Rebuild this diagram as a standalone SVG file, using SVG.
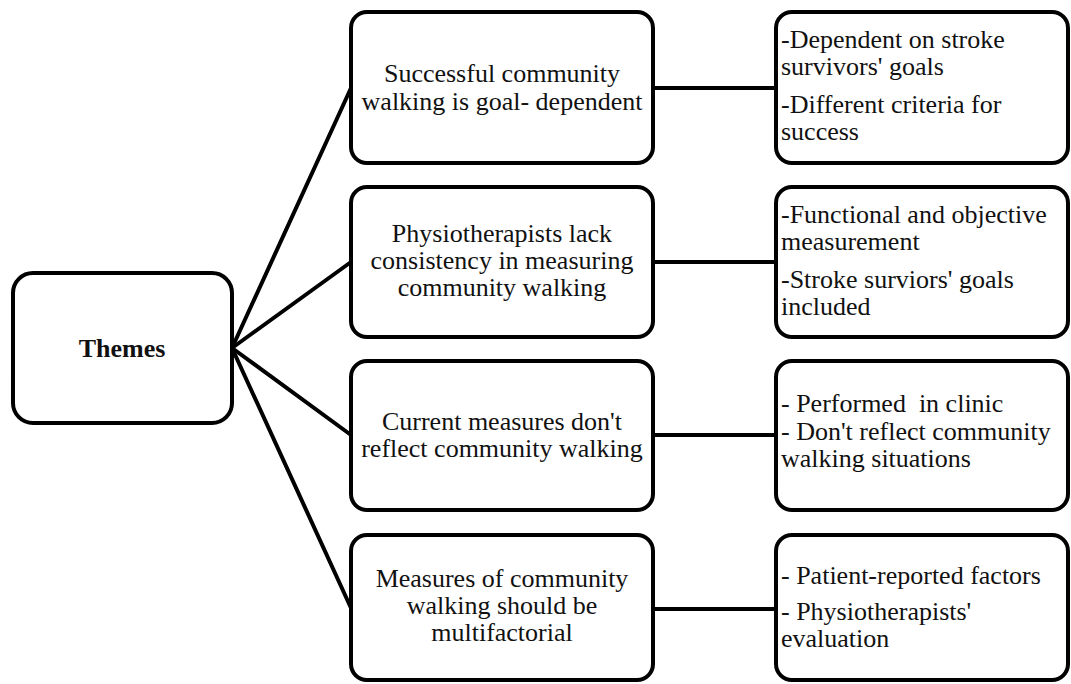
<svg xmlns="http://www.w3.org/2000/svg" width="1071" height="684" viewBox="0 0 1071 684">
  <style>
    .box { fill: #ffffff; stroke: #000000; stroke-width: 4; }
    .link { stroke: #000000; stroke-width: 4; fill: none; stroke-linecap: round; }
    .t { font-family: "Liberation Serif", "Times New Roman", serif; font-size: 26px; fill: #111111; }
    .c { text-anchor: middle; }
    .b { font-weight: bold; }
    .pre { white-space: pre; }
  </style>
  <rect width="1071" height="684" fill="#ffffff"/>

  <!-- connectors -->
  <g id="connectors">
    <line class="link" x1="232" y1="348" x2="351" y2="88"/>
    <line class="link" x1="232" y1="348" x2="351" y2="262"/>
    <line class="link" x1="232" y1="348" x2="351" y2="435"/>
    <line class="link" x1="232" y1="348" x2="351" y2="608"/>
    <line class="link" x1="653" y1="88" x2="776" y2="88"/>
    <line class="link" x1="653" y1="262" x2="776" y2="262"/>
    <line class="link" x1="653" y1="435" x2="776" y2="435"/>
    <line class="link" x1="653" y1="609" x2="776" y2="609"/>
  </g>

  <!-- root -->
  <g id="themes">
    <rect class="box" x="13" y="273" width="219" height="150" rx="20"/>
    <text class="t c b" x="122" y="357">Themes</text>
  </g>

  <!-- themes -->
  <g id="theme-goal">
    <rect class="box" x="351" y="12" width="302" height="151" rx="16"/>
    <text class="t c" x="502" y="82">Successful community</text>
    <text class="t c" x="502" y="110">walking is goal- dependent</text>
  </g>
  <g id="theme-consistency">
    <rect class="box" x="351" y="187" width="302" height="150" rx="16"/>
    <text class="t c" x="502" y="242">Physiotherapists lack</text>
    <text class="t c" x="502" y="269">consistency in measuring</text>
    <text class="t c" x="502" y="296">community walking</text>
  </g>
  <g id="theme-reflect">
    <rect class="box" x="351" y="361" width="302" height="149" rx="16"/>
    <text class="t c" x="502" y="430">Current measures don't</text>
    <text class="t c" x="502" y="457">reflect community walking</text>
  </g>
  <g id="theme-multifactorial">
    <rect class="box" x="351" y="535" width="302" height="145" rx="16"/>
    <text class="t c" x="502" y="587">Measures of community</text>
    <text class="t c" x="502" y="614">walking should be</text>
    <text class="t c" x="502" y="641">multifactorial</text>
  </g>

  <!-- details -->
  <g id="detail-goal">
    <rect class="box" x="776" y="12" width="292" height="151" rx="16"/>
    <text class="t" x="781" y="48">-Dependent on stroke</text>
    <text class="t" x="781" y="75">survivors' goals</text>
    <text class="t" x="781" y="113">-Different criteria for</text>
    <text class="t" x="781" y="140">success</text>
  </g>
  <g id="detail-consistency">
    <rect class="box" x="776" y="187" width="292" height="150" rx="16"/>
    <text class="t" x="781" y="223">-Functional and objective</text>
    <text class="t" x="781" y="250">measurement</text>
    <text class="t" x="781" y="288">-Stroke surviors' goals</text>
    <text class="t" x="781" y="315">included</text>
  </g>
  <g id="detail-reflect">
    <rect class="box" x="776" y="361" width="292" height="149" rx="16"/>
    <text class="t pre" x="781" y="412">- Performed  in clinic</text>
    <text class="t" x="781" y="440">- Don't reflect community</text>
    <text class="t" x="781" y="467">walking situations</text>
  </g>
  <g id="detail-multifactorial">
    <rect class="box" x="776" y="535" width="292" height="145" rx="16"/>
    <text class="t" x="781" y="584">- Patient-reported factors</text>
    <text class="t" x="781" y="620">- Physiotherapists'</text>
    <text class="t" x="781" y="647">evaluation</text>
  </g>
</svg>
